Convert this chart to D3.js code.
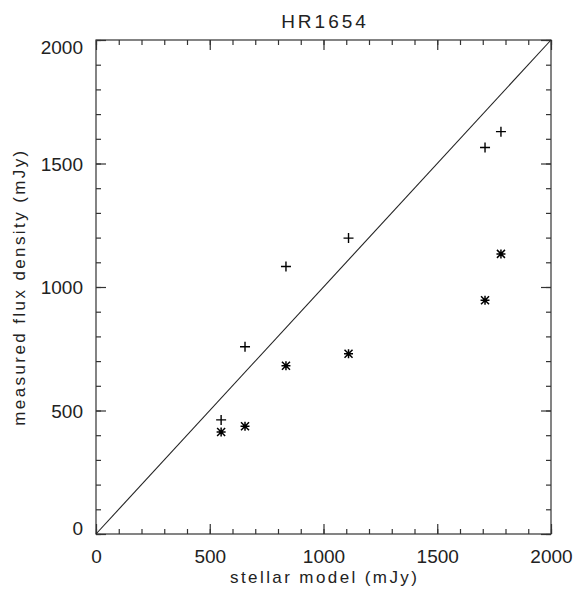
<!DOCTYPE html>
<html><head><meta charset="utf-8">
<script src="https://cdn.jsdelivr.net/npm/d3@7/dist/d3.min.js"></script>
<style>body{margin:0;background:#fff}svg{display:block}text{font-family:"Liberation Sans",Arial,sans-serif;fill:#222}</style>
</head><body>
<script>
const title = "HR1654";
const xLabel = "stellar model (mJy)";
const yLabel = "measured flux density (mJy)";
const modelX = [550, 655, 835, 1110, 1710, 1780];
const plusY = [462, 758, 1083, 1198, 1565, 1629];
const starY = [413, 436, 681, 730, 946, 1134];
const majorTicks = [0, 500, 1000, 1500, 2000];
const minorTicks = d3.range(0, 2001, 100);

const W = 575, H = 590;
const m = {l: 96, r: 24, t: 40, b: 56};
const svg = d3.select("body").append("svg").attr("width", W).attr("height", H);
const x = d3.scaleLinear().domain([0, 2000]).range([m.l, W - m.r]);
const y = d3.scaleLinear().domain([0, 2000]).range([H - m.b, m.t]);
const iw = W - m.r - m.l, ih = H - m.b - m.t;

const ax = "#333";
svg.append("rect").attr("x", m.l).attr("y", m.t).attr("width", iw).attr("height", ih)
  .attr("fill", "none").attr("stroke", ax).attr("stroke-width", 1.2);

function styleAxis(g) {
  g.select(".domain").remove();
  g.selectAll(".tick line").attr("stroke", ax).attr("stroke-width", 1.2);
  g.selectAll(".tick text").attr("font-size", 19).attr("fill", "#222")
    .attr("font-family", '"Liberation Sans",Arial,sans-serif');
}
const fmt = d3.format("d");
const axes = [
  [d3.axisBottom(x).tickValues(minorTicks).tickSize(-5).tickFormat(""), `translate(0,${H - m.b})`],
  [d3.axisBottom(x).tickValues(majorTicks).tickSize(-10).tickPadding(16).tickFormat(fmt), `translate(0,${H - m.b})`, "bottom"],
  [d3.axisTop(x).tickValues(minorTicks).tickSize(-5).tickFormat(""), `translate(0,${m.t})`],
  [d3.axisTop(x).tickValues(majorTicks).tickSize(-10).tickFormat(""), `translate(0,${m.t})`],
  [d3.axisLeft(y).tickValues(minorTicks).tickSize(-5).tickFormat(""), `translate(${m.l},0)`],
  [d3.axisLeft(y).tickValues(majorTicks).tickSize(-10).tickPadding(13).tickFormat(fmt), `translate(${m.l},0)`, "left"],
  [d3.axisRight(y).tickValues(minorTicks).tickSize(-5).tickFormat(""), `translate(${W - m.r},0)`],
  [d3.axisRight(y).tickValues(majorTicks).tickSize(-10).tickFormat(""), `translate(${W - m.r},0)`]
];
axes.forEach(([a, t, kind]) => {
  const g = svg.append("g").attr("transform", t).call(a);
  styleAxis(g);
  if (kind === "left") {
    g.selectAll(".tick text").attr("dy", d => d === 0 ? "0em" : d === 2000 ? "0.72em" : "0.36em");
  }
});

// diagonal
svg.append("line").attr("x1", x(0)).attr("y1", y(0)).attr("x2", x(2000)).attr("y2", y(2000))
  .attr("stroke", "#222").attr("stroke-width", 1.1);

// plus markers
const ps = 5;
svg.append("g").selectAll("path").data(modelX.map((d, i) => [d, plusY[i]])).join("path")
  .attr("d", d => { const cx = x(d[0]), cy = y(d[1]);
    return `M${cx - ps},${cy}H${cx + ps}M${cx},${cy - ps}V${cy + ps}`; })
  .attr("stroke", "#000").attr("stroke-width", 1.4);

// asterisk markers
const ss = 4.5, sd = 4;
svg.append("g").selectAll("path").data(modelX.map((d, i) => [d, starY[i]])).join("path")
  .attr("d", d => { const cx = x(d[0]), cy = y(d[1]);
    return `M${cx - ss},${cy}H${cx + ss}M${cx},${cy - ss}V${cy + ss}` +
      `M${cx - sd},${cy - sd}L${cx + sd},${cy + sd}M${cx - sd},${cy + sd}L${cx + sd},${cy - sd}`; })
  .attr("stroke", "#000").attr("stroke-width", 1.5);

// title & labels
svg.append("text").attr("x", (m.l + W - m.r) / 2 + 1.5).attr("y", 28).attr("text-anchor", "middle")
  .attr("font-size", 19).attr("letter-spacing", 3).text(title);
svg.append("text").attr("x", (m.l + W - m.r) / 2 + 1.2).attr("y", 583).attr("text-anchor", "middle")
  .attr("font-size", 17).attr("letter-spacing", 2.4).text(xLabel);
svg.append("text").attr("transform", `translate(25,${(m.t + H - m.b) / 2}) rotate(-90)`)
  .attr("text-anchor", "middle").attr("font-size", 17).attr("letter-spacing", 2.4).text(yLabel);
</script>
</body></html>
